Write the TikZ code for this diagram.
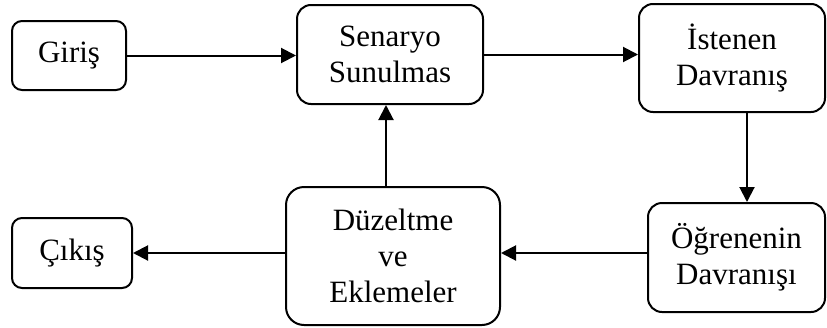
\documentclass[tikz,border=0pt]{standalone}
\usepackage{fontspec}
\setmainfont{Liberation Serif}
\usetikzlibrary{arrows.meta}
\tikzset{
kutu/.style = {draw, line width=2pt, rounded corners=14pt, align=center,
  inner sep=0pt, font=\fontsize{31}{36}\selectfont},
ok/.style = {-{Triangle[length=15pt,width=15pt]}, line width=2pt}
}
\begin{document}
\begin{tikzpicture}[x=1pt,y=-1pt]
\useasboundingbox (0,0) rectangle (827,327);
%Ust satir
\node[kutu, rounded corners=10pt, minimum width=114pt, minimum height=69pt] (giris) at (69,55.5) {Giriş};
\node[kutu, minimum width=186pt, minimum height=99pt] (senaryo) at (390,54.5) {Senaryo\\Sunulmas};
\node[kutu, minimum width=186pt, minimum height=108pt] (istenen) at (732,58) {İstenen\\Davranış};
%Alt satir
\node[kutu, minimum width=177pt, minimum height=109pt] (ogrenen) at (736.5,257.5) {Öğrenenin\\Davranışı};
\node[kutu, rounded corners=18pt, minimum width=214pt, minimum height=138pt] (duzeltme) at (393,256) {Düzeltme\\ve\\Eklemeler};
\node[kutu, rounded corners=10pt, minimum width=120pt, minimum height=70pt] (cikis) at (72,253) {Çıkış};
%Oklar
\draw[ok] (giris.east) -- (giris.east -| senaryo.west);
\draw[ok] (senaryo.east) -- (senaryo.east -| istenen.west);
\draw[ok] ([xshift=15pt]istenen.south) -- ([xshift=15pt]istenen.south |- ogrenen.north);
\draw[ok] (ogrenen.west |- cikis) -- (duzeltme.east |- cikis);
\draw[ok] (duzeltme.west |- cikis) -- (cikis.east);
\draw[ok] ([xshift=-7pt]duzeltme.north) -- ([xshift=-7pt]duzeltme.north |- senaryo.south);
\end{tikzpicture}
\end{document}
